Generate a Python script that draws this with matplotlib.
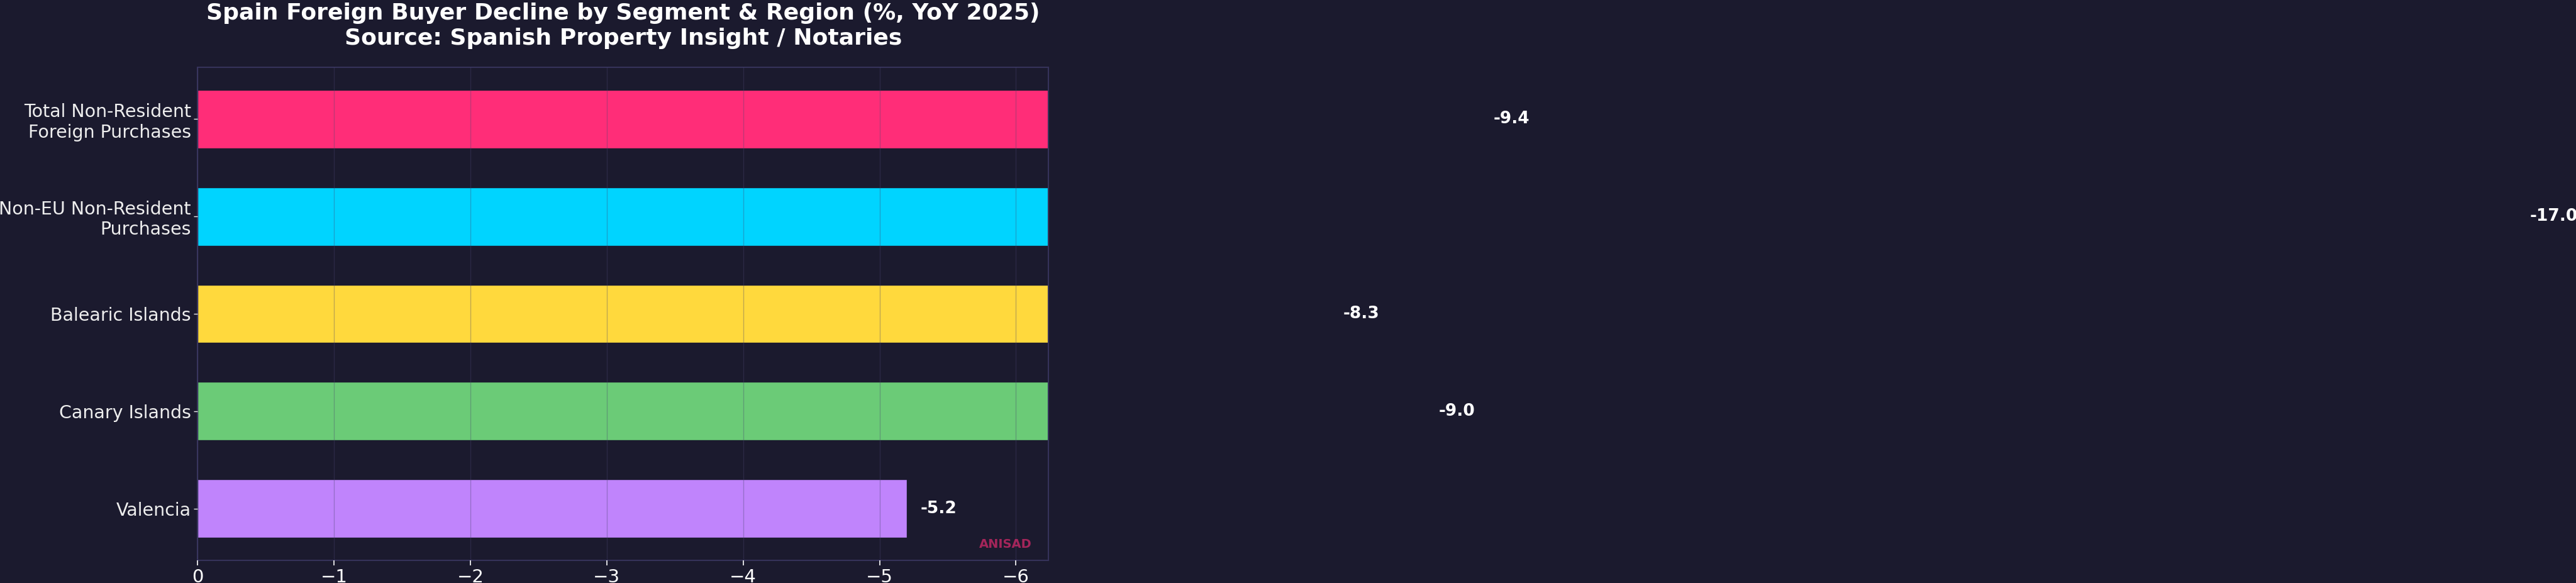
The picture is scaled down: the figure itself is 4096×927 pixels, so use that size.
import numpy as np
import matplotlib.pyplot as plt

# Data
categories = ['Total Non-Resident\nForeign Purchases', 'Non-EU Non-Resident\nPurchases',
              'Balearic Islands', 'Canary Islands', 'Valencia']
values = [-9.4, -17.0, -8.3, -9.0, -5.2]
colors = ['#FF2D78', '#00D4FF', '#FFD93D', '#6BCB77', '#C084FC']
x_limit = -6.24

BG = '#1B1A2E'

fig = plt.figure(figsize=(40.96, 9.27), dpi=100, facecolor=BG)
ax = fig.add_axes([0.0767, 0.0388, 0.3304, 0.8458], facecolor=BG)

y = np.arange(len(categories))
ax.barh(y, values, height=0.6, color=colors, edgecolor=BG, linewidth=1, zorder=2)
ax.invert_yaxis()
ax.set_yticks(y)
ax.set_yticklabels(categories, fontsize=20.5, color='#EEEEEE')
ax.set_xlim(0, x_limit)

# value labels (placed beyond the visible axis range, as in the source)
for yi, v in zip(y, values):
    ax.text(v - 0.1, yi, f'{v:.1f}', ha='left', va='center', color='white',
            fontsize=19, fontweight='bold', clip_on=False)

ax.grid(axis='x', color='#4A4770', alpha=0.35, linewidth=1, zorder=3)
ax.set_axisbelow(False)
ax.tick_params(axis='x', colors='white', labelsize=21, length=6, width=1.2)
ax.tick_params(axis='y', colors='#EEEEEE', length=4, width=1)
for s in ax.spines.values():
    s.set_color('#35325A')
    s.set_linewidth(1.5)

ax.set_title('Spain Foreign Buyer Decline by Segment & Region (%, YoY 2025)\n'
             'Source: Spanish Property Insight / Notaries',
             color='white', fontsize=26, fontweight='bold', pad=26)

ax.text(0.98, 0.02, 'ANISAD', transform=ax.transAxes, ha='right', va='bottom',
        color='#FF2D78', alpha=0.6, fontsize=14, fontweight='bold')

fig.savefig('out.png', dpi=100, facecolor=BG)
